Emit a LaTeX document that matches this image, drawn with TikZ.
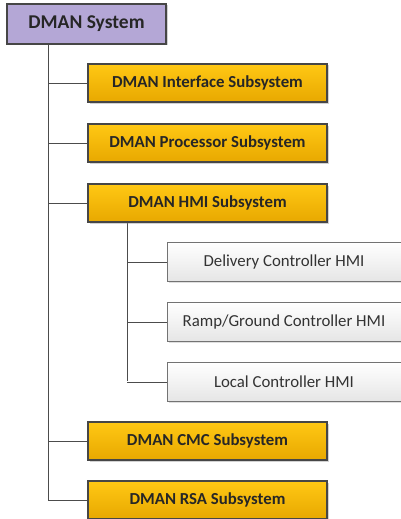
\documentclass[tikz,border=0pt]{standalone}
\usepackage{fontspec}
\setmainfont{Carlito}
\usetikzlibrary{shadows}
\definecolor{sysfill}{RGB}{180,167,214}
\definecolor{orgtop}{RGB}{255,200,20}
\definecolor{orgbot}{RGB}{232,168,0}
\definecolor{edge}{RGB}{70,70,70}
\tikzset{
  sysbox/.style={draw=edge, line width=1.2pt, fill=sysfill, minimum width=159pt, minimum height=40pt, inner sep=0pt, font=\fontsize{19.5}{22}\selectfont\bfseries, text=black!85, drop shadow={opacity=0.35, shadow xshift=1.5pt, shadow yshift=-1.5pt}},
  subbox/.style={draw=edge, line width=1.2pt, top color=orgtop, bottom color=orgbot, minimum width=239pt, minimum height=38pt, inner sep=0pt, font=\fontsize{16.8}{19}\selectfont\bfseries, text=black!85, drop shadow={opacity=0.35, shadow xshift=1.5pt, shadow yshift=-1.5pt}},
  hmibox/.style={draw=black!55, line width=0.9pt, top color=white, bottom color=black!10, minimum width=234pt, minimum height=39pt, inner sep=0pt, font=\fontsize{16.8}{19}\selectfont, text=black!80, drop shadow={opacity=0.25, shadow xshift=1.5pt, shadow yshift=-1.5pt}},
  conn/.style={draw=black!70, line width=0.9pt}
}
\begin{document}
\begin{tikzpicture}[x=1pt,y=-1pt]
\useasboundingbox (0,0) rectangle (401,519);
\fill[white] (0,0) rectangle (401,519);
% connectors first
\coordinate (tA) at (48,44);
\coordinate (tB) at (48,500);
\coordinate (hA) at (127,223);
\coordinate (hB) at (127,381);
\draw[conn] (tA) -- (tB);
\draw[conn] (hA) -- (hB);
\node[sysbox] (sys) at (86.5,24) {DMAN System};
\node[subbox] (ifc) at (207.5,83) {DMAN Interface Subsystem};
\node[subbox] (proc) at (207.5,143) {DMAN Processor Subsystem};
\node[subbox] (hmi) at (207.5,203) {DMAN HMI Subsystem};
\node[hmibox] (del) at (284,262) {Delivery Controller HMI};
\node[hmibox] (ramp) at (284,322) {Ramp/Ground Controller HMI};
\node[hmibox] (loc) at (284,382) {Local Controller HMI};
\node[subbox] (cmc) at (207.5,441) {DMAN CMC Subsystem};
\node[subbox] (rsa) at (207.5,500) {DMAN RSA Subsystem};
\foreach \n in {ifc,proc,hmi,cmc,rsa}{\draw[conn] (\n.west) -- (\n.west -| tA);}
\foreach \n in {del,ramp,loc}{\draw[conn] (\n.west) -- (\n.west -| hA);}
\end{tikzpicture}
\end{document}
